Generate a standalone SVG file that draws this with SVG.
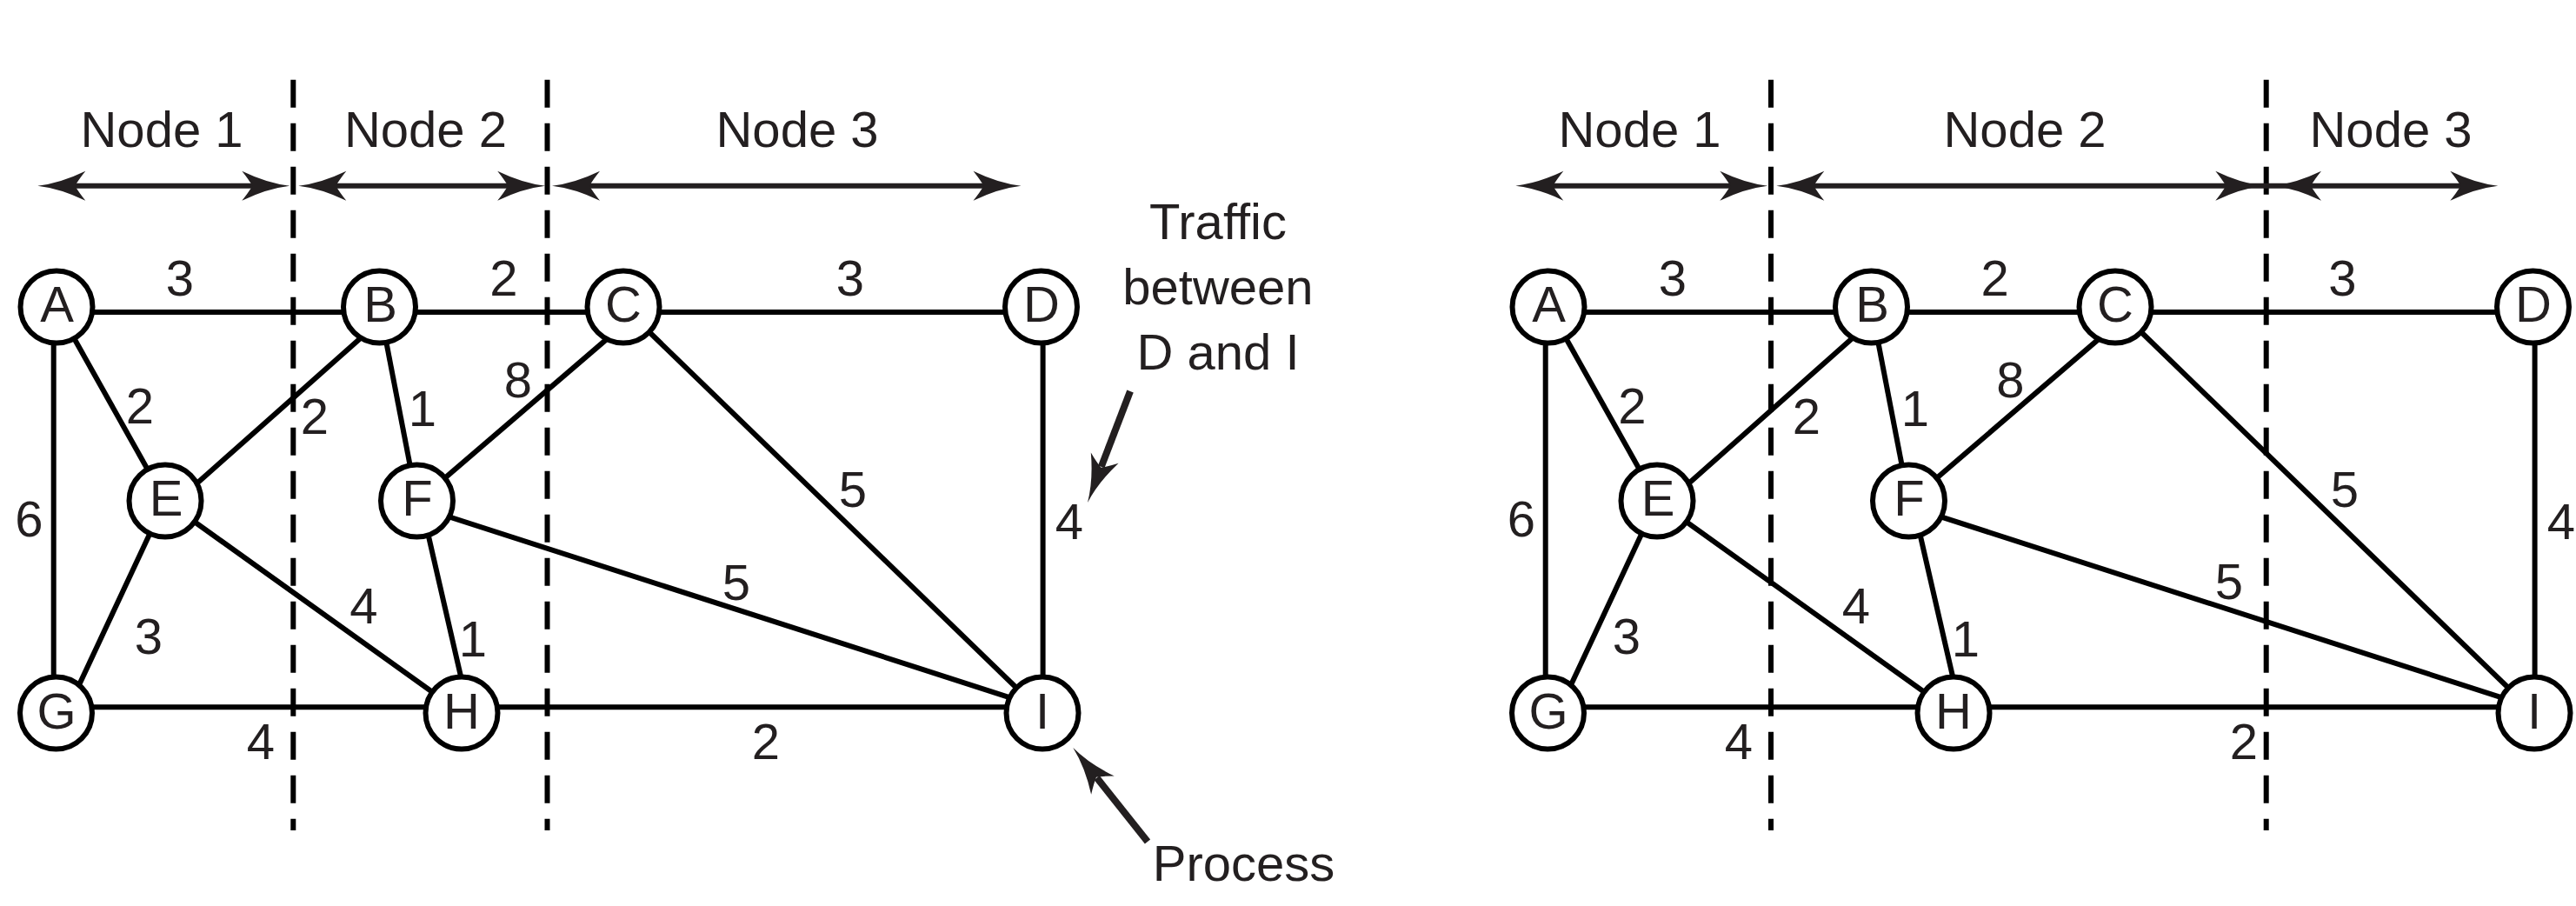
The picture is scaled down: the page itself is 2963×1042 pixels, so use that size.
<svg xmlns="http://www.w3.org/2000/svg" xmlns:xlink="http://www.w3.org/1999/xlink" width="2963" height="1042" viewBox="0 0 2963 1042">
  <style>
    text { font-family: "Liberation Sans", Arial, Helvetica, sans-serif; font-size: 58px; fill: #231f20; text-anchor: middle; }
    .edge { stroke: #000; stroke-width: 6; fill: none; }
    .part { stroke: #000; stroke-width: 6; stroke-dasharray: 32 18; fill: none; }
    .span { stroke: #231f20; stroke-width: 6; fill: none; }
    .ptr { stroke: #231f20; stroke-width: 8; fill: none; }
    .head { fill: #231f20; }
    .node circle { fill: #fff; stroke: #000; stroke-width: 6; }
  </style>
  <defs>
    <!-- barbed arrowhead, tip at origin, pointing along +x -->
    <path id="ah" class="head" d="M0,0 Q-26,-3 -55,-17 Q-47,-7 -43,0 Q-47,7 -55,17 Q-26,3 0,0 Z"/>
  </defs>

  <rect width="2963" height="1042" fill="#fff"/>

  <!-- ===== left partitioning ===== -->
  <g id="partitions-left">
    <line class="part" x1="337.3" y1="91.7" x2="337.3" y2="955"/>
    <line class="part" x1="629.5" y1="91.7" x2="629.5" y2="955"/>
  </g>
  <g id="spans-left">
    <line class="span" x1="83" y1="213.7" x2="293" y2="213.7"/>
    <use xlink:href="#ah" transform="translate(43.3,213.7) rotate(180)"/>
    <use xlink:href="#ah" transform="translate(333.3,213.7)"/>
    <line class="span" x1="383" y1="213.7" x2="587" y2="213.7"/>
    <use xlink:href="#ah" transform="translate(343.3,213.7) rotate(180)"/>
    <use xlink:href="#ah" transform="translate(627.2,213.7)"/>
    <line class="span" x1="675" y1="213.7" x2="1134" y2="213.7"/>
    <use xlink:href="#ah" transform="translate(635,213.7) rotate(180)"/>
    <use xlink:href="#ah" transform="translate(1174.5,213.7)"/>
    <text x="186" y="169">Node 1</text>
    <text x="489.4" y="169">Node 2</text>
    <text x="917" y="169">Node 3</text>
  </g>

  <!-- ===== left graph ===== -->
  <g id="connectors-left">
    <line class="edge" x1="65" y1="359" x2="436.5" y2="359"/>
    <line class="edge" x1="436.5" y1="359" x2="717" y2="359"/>
    <line class="edge" x1="717" y1="359" x2="1197.5" y2="359"/>
    <line class="edge" x1="61.7" y1="353" x2="61.7" y2="820"/>
    <line class="edge" x1="65" y1="353" x2="190" y2="576"/>
    <line class="edge" x1="420.8" y1="383.4" x2="220.2" y2="561.6"/>
    <line class="edge" x1="436.5" y1="353" x2="479.5" y2="576"/>
    <line class="edge" x1="705.1" y1="383.9" x2="480" y2="577"/>
    <line class="edge" x1="717" y1="353" x2="1199" y2="820"/>
    <line class="edge" x1="1199.6" y1="353" x2="1199.6" y2="820"/>
    <line class="edge" x1="190" y1="576" x2="86.4" y2="797.6"/>
    <line class="edge" x1="190" y1="576" x2="531" y2="820"/>
    <line class="edge" x1="483.6" y1="576" x2="535.1" y2="800"/>
    <line class="edge" x1="480" y1="582.6" x2="1199" y2="814.3"/>
    <line class="edge" x1="64.5" y1="813.3" x2="531" y2="813.3"/>
    <line class="edge" x1="531" y1="813.3" x2="1199" y2="813.3"/>
  </g>
  <g id="L-A" class="node"><circle cx="65" cy="353" r="41.5"/><text x="65.5" y="370">A</text></g>
  <g id="L-B" class="node"><circle cx="436.5" cy="353" r="41.5"/><text x="437.5" y="370">B</text></g>
  <g id="L-C" class="node"><circle cx="717" cy="353" r="41.5"/><text x="717" y="370">C</text></g>
  <g id="L-D" class="node"><circle cx="1197.5" cy="353" r="41.5"/><text x="1198" y="370">D</text></g>
  <g id="L-E" class="node"><circle cx="190" cy="576" r="41.5"/><text x="191" y="593">E</text></g>
  <g id="L-F" class="node"><circle cx="479.5" cy="576" r="41.5"/><text x="480" y="593">F</text></g>
  <g id="L-G" class="node"><circle cx="64.5" cy="820" r="41.5"/><text x="65" y="838">G</text></g>
  <g id="L-H" class="node"><circle cx="531" cy="820" r="41.5"/><text x="531" y="838">H</text></g>
  <g id="L-I" class="node"><circle cx="1199" cy="820" r="41.5"/><text x="1199" y="838">I</text></g>
  <g id="weights-left">
    <text x="207" y="340">3</text>
    <text x="579.5" y="340">2</text>
    <text x="978" y="340">3</text>
    <text x="161" y="487">2</text>
    <text x="362" y="499">2</text>
    <text x="486" y="490">1</text>
    <text x="596" y="457">8</text>
    <text x="33.5" y="617">6</text>
    <text x="171" y="752">3</text>
    <text x="418.5" y="717">4</text>
    <text x="544" y="755">1</text>
    <text x="300" y="873">4</text>
    <text x="981" y="583">5</text>
    <text x="847" y="690">5</text>
    <text x="881" y="873">2</text>
    <text x="1230" y="620">4</text>
  </g>

  <!-- annotations -->
  <g id="note-traffic">
    <text x="1401" y="275">Traffic</text>
    <text x="1401" y="350">between</text>
    <text x="1401" y="425">D and I</text>
    <line class="ptr" x1="1300" y1="450" x2="1266.7" y2="536.9"/>
    <use xlink:href="#ah" transform="translate(1251,578) rotate(110.95)"/>
  </g>
  <g id="note-process">
    <text x="1430.5" y="1013">Process</text>
    <line class="ptr" x1="1320" y1="968" x2="1261.6" y2="894.5"/>
    <use xlink:href="#ah" transform="translate(1234.3,860) rotate(-128.4)"/>
  </g>

  <!-- ===== right partitioning ===== -->
  <g id="partitions-right">
    <line class="part" x1="2037" y1="91.7" x2="2037" y2="955"/>
    <line class="part" x1="2606.7" y1="91.7" x2="2606.7" y2="955"/>
  </g>
  <g id="spans-right">
    <line class="span" x1="1783" y1="213.7" x2="1993" y2="213.7"/>
    <use xlink:href="#ah" transform="translate(1743.3,213.7) rotate(180)"/>
    <use xlink:href="#ah" transform="translate(2033.3,213.7)"/>
    <line class="span" x1="2083" y1="213.7" x2="2833" y2="213.7"/>
    <use xlink:href="#ah" transform="translate(2043.3,213.7) rotate(180)"/>
    <use xlink:href="#ah" transform="translate(2603.3,213.7)"/>
    <use xlink:href="#ah" transform="translate(2615,213.7) rotate(180)"/>
    <use xlink:href="#ah" transform="translate(2873.3,213.7)"/>
    <text x="1886" y="169">Node 1</text>
    <text x="2329" y="169">Node 2</text>
    <text x="2750" y="169">Node 3</text>
  </g>

  <!-- ===== right graph (same network, shifted) ===== -->
  <g transform="translate(1716,0)">
    <g id="connectors-right">
      <line class="edge" x1="65" y1="359" x2="436.5" y2="359"/>
      <line class="edge" x1="436.5" y1="359" x2="717" y2="359"/>
      <line class="edge" x1="717" y1="359" x2="1197.5" y2="359"/>
      <line class="edge" x1="61.7" y1="353" x2="61.7" y2="820"/>
      <line class="edge" x1="65" y1="353" x2="190" y2="576"/>
      <line class="edge" x1="420.8" y1="383.4" x2="220.2" y2="561.6"/>
      <line class="edge" x1="436.5" y1="353" x2="479.5" y2="576"/>
      <line class="edge" x1="705.1" y1="383.9" x2="480" y2="577"/>
      <line class="edge" x1="717" y1="353" x2="1199" y2="820"/>
      <line class="edge" x1="1199.6" y1="353" x2="1199.6" y2="820"/>
      <line class="edge" x1="190" y1="576" x2="86.4" y2="797.6"/>
      <line class="edge" x1="190" y1="576" x2="531" y2="820"/>
      <line class="edge" x1="483.6" y1="576" x2="535.1" y2="800"/>
      <line class="edge" x1="480" y1="582.6" x2="1199" y2="814.3"/>
      <line class="edge" x1="64.5" y1="813.3" x2="531" y2="813.3"/>
      <line class="edge" x1="531" y1="813.3" x2="1199" y2="813.3"/>
    </g>
    <g id="R-A" class="node"><circle cx="65" cy="353" r="41.5"/><text x="65.5" y="370">A</text></g>
    <g id="R-B" class="node"><circle cx="436.5" cy="353" r="41.5"/><text x="437.5" y="370">B</text></g>
    <g id="R-C" class="node"><circle cx="717" cy="353" r="41.5"/><text x="717" y="370">C</text></g>
    <g id="R-D" class="node"><circle cx="1197.5" cy="353" r="41.5"/><text x="1198" y="370">D</text></g>
    <g id="R-E" class="node"><circle cx="190" cy="576" r="41.5"/><text x="191" y="593">E</text></g>
    <g id="R-F" class="node"><circle cx="479.5" cy="576" r="41.5"/><text x="480" y="593">F</text></g>
    <g id="R-G" class="node"><circle cx="64.5" cy="820" r="41.5"/><text x="65" y="838">G</text></g>
    <g id="R-H" class="node"><circle cx="531" cy="820" r="41.5"/><text x="531" y="838">H</text></g>
    <g id="R-I" class="node"><circle cx="1199" cy="820" r="41.5"/><text x="1199" y="838">I</text></g>
  </g>
  <g id="weights-right">
    <text x="1924" y="340">3</text>
    <text x="2294.6" y="340">2</text>
    <text x="2694.3" y="340">3</text>
    <text x="1877.5" y="487">2</text>
    <text x="2078" y="499">2</text>
    <text x="2203" y="490">1</text>
    <text x="2312.5" y="457">8</text>
    <text x="1750" y="617">6</text>
    <text x="1871" y="752">3</text>
    <text x="2135" y="717">4</text>
    <text x="2261" y="755">1</text>
    <text x="2000" y="873">4</text>
    <text x="2697" y="583">5</text>
    <text x="2564" y="689">5</text>
    <text x="2581" y="873">2</text>
    <text x="2946" y="620">4</text>
  </g>
</svg>
